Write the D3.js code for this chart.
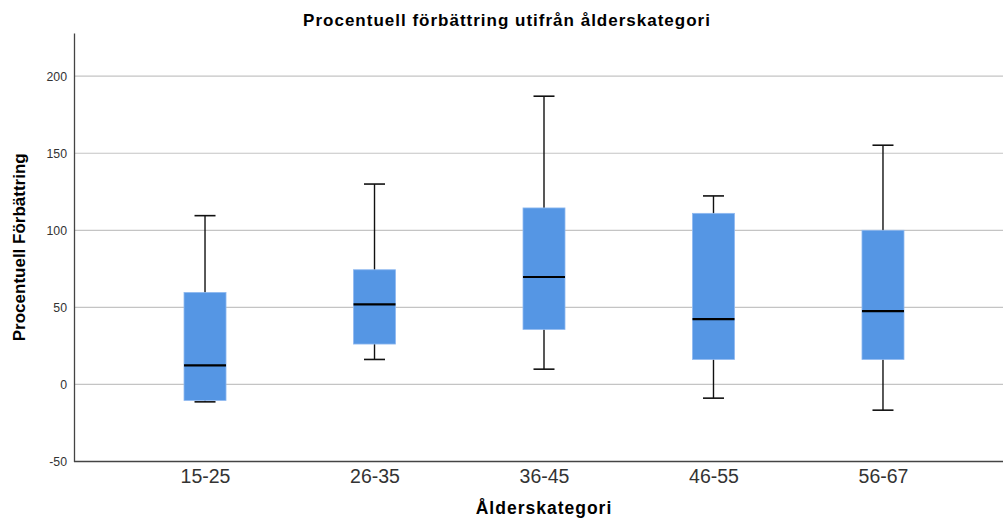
<!DOCTYPE html>
<html><head><meta charset="utf-8">
<script src="https://cdn.jsdelivr.net/npm/d3@7"></script>
<style>body{margin:0;background:#fff}svg{display:block}</style>
</head><body>
<svg id="c" width="1003" height="522"></svg>
<script>
const categories = ["15-25","26-35","36-45","46-55","56-67"];
const whiskerLow  = [-11.3, 16.2, 9.9, -8.9, -16.7];
const q1          = [-10.4, 26.2, 35.7, 16.2, 16.2];
const median      = [12.3, 52.0, 69.7, 42.4, 47.6];
const q3          = [59.7, 74.4, 114.5, 111.0, 100.0];
const whiskerHigh = [109.5, 130.0, 187.0, 122.3, 155.2];
const yTicks = [-50, 0, 50, 100, 150, 200];

const data = categories.map((c,i)=>({c, lo:whiskerLow[i], q1:q1[i], med:median[i], q3:q3[i], hi:whiskerHigh[i]}));

const svg = d3.select("#c");
const mLeft = 74, mTop = 33, mBottom = 461.5, mRight = 1014;
const font = "'Liberation Sans', Arial, sans-serif";

const x = d3.scalePoint().domain(categories).range([mLeft, mRight]).padding(0.773);
const y = d3.scaleLinear().domain([-50, 228]).range([mBottom, mTop]);

// gridlines
svg.append("g").selectAll("line").data(yTicks.filter(t=>t>-50)).join("line")
  .attr("x1", mLeft).attr("x2", 1003)
  .attr("y1", d=>y(d)).attr("y2", d=>y(d))
  .attr("stroke", "#c4c4c4").attr("stroke-width", 1.2);

// y axis
const ya = svg.append("g").attr("transform", `translate(${mLeft},0)`)
  .call(d3.axisLeft(y).tickValues(yTicks).tickFormat(d=>String(d)).tickSize(0).tickPadding(7));
ya.select(".domain").attr("stroke", "#444").attr("stroke-width", 1.3);
ya.selectAll("text").attr("font-family", font).attr("font-size", 12.3).attr("fill", "#333");

// x axis
const xa = svg.append("g").attr("transform", `translate(0,${mBottom})`)
  .call(d3.axisBottom(x).tickSize(0).tickPadding(8));
xa.select(".domain").attr("d", `M${mLeft},0H1003`).attr("stroke", "#444").attr("stroke-width", 1.3);
xa.selectAll("text").attr("font-family", font).attr("font-size", 19.5).attr("fill", "#333");

const boxW = 42, capW = 21;
const g = svg.append("g").selectAll("g").data(data).join("g");
// whiskers
g.append("line").attr("x1", d=>x(d.c)).attr("x2", d=>x(d.c))
  .attr("y1", d=>y(d.hi)).attr("y2", d=>y(d.lo)).attr("stroke", "#111").attr("stroke-width", 1.4);
g.append("line").attr("x1", d=>x(d.c)-capW/2).attr("x2", d=>x(d.c)+capW/2)
  .attr("y1", d=>y(d.hi)).attr("y2", d=>y(d.hi)).attr("stroke", "#111").attr("stroke-width", 1.6);
g.append("line").attr("x1", d=>x(d.c)-capW/2).attr("x2", d=>x(d.c)+capW/2)
  .attr("y1", d=>y(d.lo)).attr("y2", d=>y(d.lo)).attr("stroke", "#111").attr("stroke-width", 1.6);
// boxes
g.append("rect").attr("x", d=>x(d.c)-boxW/2).attr("width", boxW)
  .attr("y", d=>y(d.q3)).attr("height", d=>y(d.q1)-y(d.q3))
  .attr("fill", "#5596e4").attr("stroke", "#8fb9f0").attr("stroke-width", 0.8);
// median
g.append("line").attr("x1", d=>x(d.c)-boxW/2).attr("x2", d=>x(d.c)+boxW/2)
  .attr("y1", d=>y(d.med)).attr("y2", d=>y(d.med)).attr("stroke", "#000").attr("stroke-width", 2.2);

// titles
svg.append("text").attr("x", 507).attr("y", 26).attr("text-anchor", "middle")
  .attr("font-family", font).attr("font-weight", "bold").attr("font-size", 17).attr("letter-spacing", 1)
  .text("Procentuell förbättring utifrån ålderskategori");
svg.append("text").attr("x", 544).attr("y", 514).attr("text-anchor", "middle")
  .attr("font-family", font).attr("font-weight", "bold").attr("font-size", 17.5).attr("letter-spacing", 1)
  .text("Ålderskategori");
svg.append("text").attr("transform", `translate(25,${(mTop+mBottom)/2}) rotate(-90)`).attr("text-anchor", "middle")
  .attr("font-family", font).attr("font-weight", "bold").attr("font-size", 17)
  .text("Procentuell Förbättring");
</script>
</body></html>
